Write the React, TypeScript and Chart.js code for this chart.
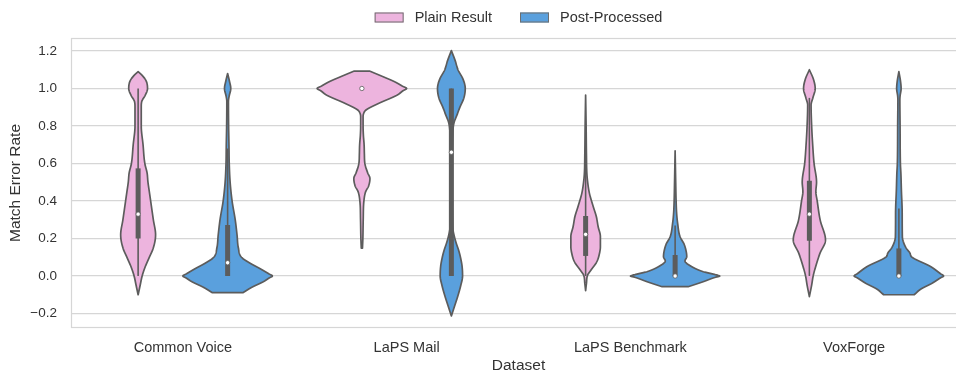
import { useEffect, useRef } from 'react';
import { Chart, registerables } from 'chart.js';

Chart.register(...registerables);

// ---- data ----
const categories = ['Common Voice', 'LaPS Mail', 'LaPS Benchmark', 'VoxForge'];
const seriesNames = ['Plain Result', 'Post-Processed'];
const yTicks = [-0.2, 0.0, 0.2, 0.4, 0.6, 0.8, 1.0, 1.2];

// Density outlines: error-rate levels (top to bottom) and relative half-widths (1 = widest violin)
const cvPlainLevels = [1.09, 1.07, 1.04, 1.0, 0.96, 0.93, 0.9, 0.8, 0.7, 0.6, 0.55, 0.5, 0.45, 0.4, 0.3, 0.22, 0.15, 0.1, 0.05, 0.0, -0.05, -0.1];
const cvPlainDensity = [0, 0.09, 0.18, 0.21, 0.15, 0.08, 0.07, 0.07, 0.11, 0.15, 0.2, 0.22, 0.25, 0.28, 0.34, 0.39, 0.34, 0.25, 0.16, 0.09, 0.045, 0];

const cvPostLevels = [1.08, 1.04, 1.0, 0.96, 0.93, 0.8, 0.7, 0.6, 0.5, 0.4, 0.3, 0.22, 0.15, 0.1, 0.07, 0.04, 0.012, 0.0, -0.01, -0.03, -0.06, -0.089];
const cvPostDensity = [0, 0.04, 0.07, 0.035, 0.018, 0.022, 0.03, 0.036, 0.056, 0.1, 0.17, 0.21, 0.24, 0.31, 0.49, 0.72, 0.92, 1.0, 0.93, 0.8, 0.54, 0.34];

const mailPlainLevels = [1.093, 1.063, 1.036, 1.012, 1.0, 0.988, 0.965, 0.92, 0.885, 0.87, 0.85, 0.8, 0.75, 0.7, 0.65, 0.6, 0.55, 0.52, 0.48, 0.45, 0.4, 0.3, 0.2, 0.148];
const mailPlainDensity = [0.17, 0.47, 0.73, 0.91, 1.0, 0.92, 0.79, 0.37, 0.09, 0.045, 0.027, 0.027, 0.034, 0.05, 0.056, 0.067, 0.13, 0.18, 0.15, 0.085, 0.045, 0.03, 0.022, 0.013];

const mailPostLevels = [1.202, 1.15, 1.099, 1.05, 1.0, 0.95, 0.9, 0.868, 0.814, 0.75, 0.6, 0.45, 0.3, 0.25, 0.21, 0.174, 0.139, 0.103, 0.05, 0.0, -0.05, -0.11, -0.16, -0.213];
const mailPostDensity = [0, 0.083, 0.15, 0.26, 0.31, 0.28, 0.19, 0.14, 0.056, 0.03, 0.022, 0.022, 0.027, 0.034, 0.067, 0.11, 0.16, 0.2, 0.24, 0.25, 0.21, 0.14, 0.072, 0];

const benchPlainLevels = [0.965, 0.8, 0.65, 0.55, 0.512, 0.441, 0.37, 0.316, 0.263, 0.21, 0.156, 0.121, 0.076, 0.032, 0.005, -0.04, -0.078];
const benchPlainDensity = [0, 0.011, 0.018, 0.027, 0.04, 0.085, 0.17, 0.24, 0.28, 0.33, 0.33, 0.31, 0.25, 0.12, 0.045, 0.018, 0];

const benchPostLevels = [0.668, 0.5, 0.4, 0.334, 0.281, 0.21, 0.17, 0.139, 0.103, 0.08, 0.059, 0.023, 0.008, 0.0, -0.008, -0.03, -0.057];
const benchPostDensity = [0, 0.013, 0.022, 0.034, 0.056, 0.11, 0.2, 0.24, 0.26, 0.22, 0.31, 0.63, 0.88, 1.0, 0.88, 0.63, 0.29];

const voxPlainLevels = [1.1, 1.05, 1.0, 0.95, 0.912, 0.8, 0.7, 0.6, 0.5, 0.45, 0.4, 0.3, 0.192, 0.12, 0.05, 0.0, -0.05, -0.11];
const voxPlainDensity = [0, 0.09, 0.13, 0.078, 0.038, 0.051, 0.074, 0.105, 0.16, 0.145, 0.175, 0.24, 0.36, 0.235, 0.14, 0.085, 0.05, 0];

const voxPostLevels = [1.09, 1.04, 1.0, 0.96, 0.94, 0.8, 0.6, 0.548, 0.46, 0.334, 0.21, 0.15, 0.121, 0.103, 0.05, 0.012, 0.0, -0.01, -0.039, -0.07, -0.1];
const voxPostDensity = [0, 0.036, 0.05, 0.027, 0.022, 0.027, 0.034, 0.045, 0.056, 0.074, 0.078, 0.16, 0.25, 0.28, 0.71, 0.93, 1.0, 0.93, 0.74, 0.49, 0.34];

// Inner box statistics per dataset
const plainQ1 = [0.2, 1.0, 0.107, 0.188];
const plainQ3 = [0.574, 1.0, 0.32, 0.508];
const plainMedian = [0.33, 1.0, 0.222, 0.33];
const plainWhiskerLow = [0.0, 1.0, 0.0, 0.0];
const plainWhiskerHigh = [1.0, 1.0, 0.64, 0.95];

const postQ1 = [0.0, 0.0, 0.0, 0.0];
const postQ3 = [0.272, 1.0, 0.112, 0.147];
const postMedian = [0.071, 0.66, 0.0, 0.0];
const postWhiskerLow = [0.0, 0.0, 0.0, 0.0];
const postWhiskerHigh = [0.68, 1.0, 0.27, 0.36];

// ---- styling ----
const PINK = '#EDB4DE';
const BLUE = '#5AA0DD';
const GRAY = '#5c5c5c';
const GRID = '#d6d6d6';
const TEXT = '#333333';
const FONT = '"Liberation Sans", Arial, sans-serif';
const DODGE = 0.2; // offset of each hue from the category centre
const HALF_WIDTH = 0.2; // half width of the widest violin, in category units

type Violin = { levels: number[]; density: number[]; q1: number; q3: number; lo: number; hi: number };

const plainViolins: Violin[] = [
  { levels: cvPlainLevels, density: cvPlainDensity, q1: plainQ1[0], q3: plainQ3[0], lo: plainWhiskerLow[0], hi: plainWhiskerHigh[0] },
  { levels: mailPlainLevels, density: mailPlainDensity, q1: plainQ1[1], q3: plainQ3[1], lo: plainWhiskerLow[1], hi: plainWhiskerHigh[1] },
  { levels: benchPlainLevels, density: benchPlainDensity, q1: plainQ1[2], q3: plainQ3[2], lo: plainWhiskerLow[2], hi: plainWhiskerHigh[2] },
  { levels: voxPlainLevels, density: voxPlainDensity, q1: plainQ1[3], q3: plainQ3[3], lo: plainWhiskerLow[3], hi: plainWhiskerHigh[3] },
];
const postViolins: Violin[] = [
  { levels: cvPostLevels, density: cvPostDensity, q1: postQ1[0], q3: postQ3[0], lo: postWhiskerLow[0], hi: postWhiskerHigh[0] },
  { levels: mailPostLevels, density: mailPostDensity, q1: postQ1[1], q3: postQ3[1], lo: postWhiskerLow[1], hi: postWhiskerHigh[1] },
  { levels: benchPostLevels, density: benchPostDensity, q1: postQ1[2], q3: postQ3[2], lo: postWhiskerLow[2], hi: postWhiskerHigh[2] },
  { levels: voxPostLevels, density: voxPostDensity, q1: postQ1[3], q3: postQ3[3], lo: postWhiskerLow[3], hi: postWhiskerHigh[3] },
];

// Monotone cubic (Fritsch-Carlson) interpolation, xs ascending
function monotone(xs: number[], ys: number[]) {
  const n = xs.length;
  const d: number[] = [];
  const m: number[] = new Array(n).fill(0);
  for (let i = 0; i < n - 1; i++) d[i] = (ys[i + 1] - ys[i]) / (xs[i + 1] - xs[i]);
  m[0] = d[0];
  m[n - 1] = d[n - 2];
  for (let i = 1; i < n - 1; i++) m[i] = d[i - 1] * d[i] <= 0 ? 0 : (d[i - 1] + d[i]) / 2;
  for (let i = 0; i < n - 1; i++) {
    if (d[i] === 0) {
      m[i] = 0;
      m[i + 1] = 0;
      continue;
    }
    const a = m[i] / d[i];
    const b = m[i + 1] / d[i];
    const s = a * a + b * b;
    if (s > 9) {
      const t = 3 / Math.sqrt(s);
      m[i] = t * a * d[i];
      m[i + 1] = t * b * d[i];
    }
  }
  return (x: number) => {
    if (x <= xs[0]) return ys[0];
    if (x >= xs[n - 1]) return ys[n - 1];
    let i = 0;
    while (i < n - 2 && x > xs[i + 1]) i++;
    const h = xs[i + 1] - xs[i];
    const t = (x - xs[i]) / h;
    const t2 = t * t;
    const t3 = t2 * t;
    return (
      (2 * t3 - 3 * t2 + 1) * ys[i] +
      (t3 - 2 * t2 + t) * h * m[i] +
      (-2 * t3 + 3 * t2) * ys[i + 1] +
      (t3 - t2) * h * m[i + 1]
    );
  };
}

const violinPlugin = {
  id: 'violins',
  beforeDatasetsDraw(chart: any) {
    const { ctx, chartArea, scales } = chart;
    const xs = scales.x;
    const ys = scales.y;

    // frame around the plotting area
    ctx.save();
    ctx.strokeStyle = GRID;
    ctx.lineWidth = 1.2;
    ctx.strokeRect(chartArea.left + 0.5, chartArea.top + 0.5, chartArea.right - chartArea.left - 1, chartArea.bottom - chartArea.top - 1);
    ctx.restore();

    chart.data.datasets.forEach((ds: any) => {
      const violins: Violin[] = ds.violins;
      violins.forEach((v, i) => {
        const centre = i + ds.dodge;
        const asc = v.levels.slice().reverse();
        const dens = v.density.slice().reverse();
        const f = monotone(asc, dens);
        const top = asc[asc.length - 1];
        const bot = asc[0];
        const steps = Math.max(2, Math.ceil(Math.abs(ys.getPixelForValue(bot) - ys.getPixelForValue(top)) * 2));
        const right: [number, number][] = [];
        const left: [number, number][] = [];
        for (let k = 0; k <= steps; k++) {
          const val = top - ((top - bot) * k) / steps;
          const w = Math.max(0, f(val)) * HALF_WIDTH;
          const py = ys.getPixelForValue(val);
          right.push([xs.getPixelForValue(centre + w), py]);
          left.push([xs.getPixelForValue(centre - w), py]);
        }
        ctx.save();
        ctx.beginPath();
        right.forEach(([px, py], k) => (k === 0 ? ctx.moveTo(px, py) : ctx.lineTo(px, py)));
        for (let k = left.length - 1; k >= 0; k--) ctx.lineTo(left[k][0], left[k][1]);
        ctx.closePath();
        ctx.fillStyle = ds.backgroundColor;
        ctx.fill();
        ctx.lineWidth = 1.7;
        ctx.lineJoin = 'round';
        ctx.strokeStyle = GRAY;
        ctx.stroke();

        // whiskers and interquartile box
        const cx = xs.getPixelForValue(centre);
        ctx.strokeStyle = GRAY;
        ctx.lineCap = 'butt';
        if (v.hi > v.lo) {
          ctx.lineWidth = 1.6;
          ctx.beginPath();
          ctx.moveTo(cx, ys.getPixelForValue(v.hi));
          ctx.lineTo(cx, ys.getPixelForValue(v.lo));
          ctx.stroke();
        }
        if (v.q3 > v.q1) {
          ctx.lineWidth = 5;
          ctx.beginPath();
          ctx.moveTo(cx, ys.getPixelForValue(v.q3));
          ctx.lineTo(cx, ys.getPixelForValue(v.q1));
          ctx.stroke();
        }
        ctx.restore();
      });
    });
  },
};

const legendPlugin = {
  id: 'topLegend',
  afterDraw(chart: any) {
    const { ctx, chartArea } = chart;
    const boxW = 29;
    const boxH = 10;
    const gap = 11;
    const itemGap = 28;
    ctx.save();
    ctx.font = `14.5px ${FONT}`;
    const items = chart.data.datasets.map((ds: any) => ({
      text: ds.label,
      color: ds.backgroundColor,
      w: ctx.measureText(ds.label).width,
    }));
    const total = items.reduce((s: number, it: any) => s + boxW + gap + it.w, 0) + itemGap * (items.length - 1);
    let x = (chartArea.left + chartArea.right) / 2 - total / 2;
    const cy = 17.5;
    items.forEach((it: any) => {
      ctx.fillStyle = it.color;
      ctx.fillRect(x, cy - boxH / 2, boxW, boxH);
      ctx.strokeStyle = '#6e6e6e';
      ctx.lineWidth = 1;
      ctx.strokeRect(x + 0.5, cy - boxH / 2 + 0.5, boxW - 1, boxH - 1);
      ctx.fillStyle = TEXT;
      ctx.textBaseline = 'middle';
      ctx.textAlign = 'left';
      ctx.fillText(it.text, x + boxW + gap, cy + 0.5);
      x += boxW + gap + it.w + itemGap;
    });
    ctx.restore();
  },
};

const fmt = (v: number) => v.toFixed(1).replace('-', '\u2212');

export default function App() {
  const ref = useRef<HTMLCanvasElement | null>(null);

  useEffect(() => {
    if (!ref.current) return;
    const medianPoints = (meds: number[], dodge: number) => meds.map((m, i) => ({ x: i + dodge, y: m }));
    const chart = new Chart(ref.current, {
      type: 'scatter',
      data: {
        datasets: [
          {
            label: seriesNames[0],
            data: medianPoints(plainMedian, -DODGE),
            backgroundColor: PINK,
            pointBackgroundColor: '#ffffff',
            pointBorderColor: GRAY,
            pointBorderWidth: 0.8,
            pointRadius: 2.2,
            violins: plainViolins,
            dodge: -DODGE,
          } as any,
          {
            label: seriesNames[1],
            data: medianPoints(postMedian, DODGE),
            backgroundColor: BLUE,
            pointBackgroundColor: '#ffffff',
            pointBorderColor: GRAY,
            pointBorderWidth: 0.8,
            pointRadius: 2.2,
            violins: postViolins,
            dodge: DODGE,
          } as any,
        ],
      },
      options: {
        responsive: false,
        devicePixelRatio: 1,
        animation: false,
        layout: { autoPadding: false, padding: { top: 38, left: 0, right: 0, bottom: 0 } },
        plugins: { legend: { display: false }, tooltip: { enabled: false } },
        scales: {
          x: {
            type: 'linear',
            min: -0.5,
            max: 3.5,
            grid: { display: false, drawTicks: false },
            border: { display: false },
            afterBuildTicks: (s: any) => {
              s.ticks = categories.map((_, i) => ({ value: i }));
            },
            afterFit: (s: any) => {
              s.height = 48;
            },
            ticks: {
              callback: (v: any) => categories[Number(v)] ?? '',
              font: { family: FONT, size: 14.5 },
              color: TEXT,
              padding: 11,
              maxRotation: 0,
              autoSkip: false,
            },
            title: {
              display: true,
              text: 'Dataset',
              font: { family: FONT, size: 15.5 },
              color: TEXT,
              padding: { top: 0, bottom: 1 },
            },
          },
          y: {
            type: 'linear',
            min: -0.2773,
            max: 1.2693,
            grid: { color: GRID, lineWidth: 1.2, drawTicks: false },
            border: { display: false },
            afterBuildTicks: (s: any) => {
              s.ticks = yTicks.map((v) => ({ value: v }));
            },
            afterFit: (s: any) => {
              s.width = 71;
            },
            ticks: {
              callback: (v: any) => fmt(Number(v)),
              font: { family: FONT, size: 13.5 },
              color: TEXT,
              padding: 14,
            },
            title: {
              display: true,
              text: 'Match Error Rate',
              font: { family: FONT, size: 15.5 },
              color: TEXT,
              padding: { top: 6, bottom: 0 },
            },
          },
        },
      } as any,
      plugins: [violinPlugin, legendPlugin],
    });
    return () => chart.destroy();
  }, []);

  // The plotting area runs a little past the right edge of the visible frame.
  return (
    <div style={{ position: 'fixed', left: 0, top: 0, width: 956, height: 376, overflow: 'hidden', background: '#fff' }}>
      <div style={{ width: 966, height: 376 }}>
        <canvas ref={ref} width={966} height={376} style={{ width: 966, height: 376, display: 'block' }} />
      </div>
    </div>
  );
}
